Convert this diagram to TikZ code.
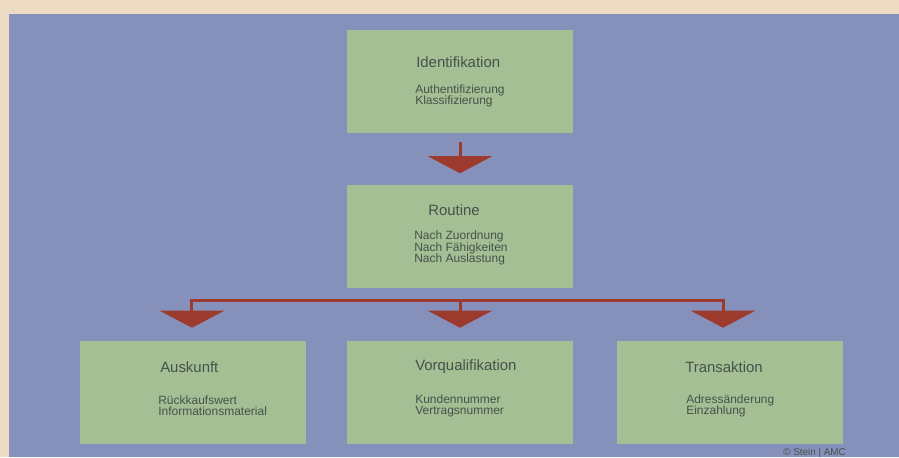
\documentclass[tikz,border=0pt]{standalone}
\usepackage{fontspec}
\setmainfont{Liberation Sans}
\usetikzlibrary{arrows.meta}
\definecolor{beige}{HTML}{EDDCC3}
\definecolor{panel}{HTML}{8691BB}
\definecolor{boxgreen}{HTML}{A4BF94}
\definecolor{arrowred}{HTML}{9C3A2E}
\definecolor{txt}{HTML}{46524A}
\tikzset{
  box/.style={fill=boxgreen, minimum width=169.5pt, minimum height=77.25pt, inner sep=0pt},
  title/.style={anchor=west, inner sep=0pt, text=txt, font=\fontsize{11.2}{13}\selectfont},
  items/.style={anchor=west, inner sep=0pt, text=txt, align=left, font=\fontsize{9}{8.4}\selectfont},
  conn/.style={draw=arrowred, line width=2.25pt, line join=miter,
    -{Triangle[width=48pt,length=12.75pt]}},
}
\begin{document}
\begin{tikzpicture}[x=0.75pt,y=-0.75pt]
\useasboundingbox (0,0) rectangle (899,457);
\fill[beige] (0,0) rectangle (899,457);
\fill[panel] (9,14) rectangle (899,457);

\node[box] (ident) at (460,81.5) {};
\node[box] (routine) at (460,236) {};
\node[box] (ausk) at (192.5,392.5) {};
\node[box] (vorq) at (460,392.5) {};
\node[box] (trans) at (730,392.5) {};

\node[title] (identT) at (416,62) {Identifikation};
\node[items] (identI) at (415,95.5) {Authentifizierung\\Klassifizierung};

\node[title] (routineT) at (428,210) {Routine};
\node[items] (routineI) at (414,248) {Nach Zuordnung\\Nach Fähigkeiten\\Nach Auslastung};

\node[title] (auskT) at (160,367) {Auskunft};
\node[items] (auskI) at (158,405.5) {Rückkaufswert\\Informationsmaterial};

\node[title] (vorqT) at (415,367) {Vorqualifikation};
\node[items] (vorqI) at (415,405.5) {Kundennummer\\Vertragsnummer};

\node[title] (transT) at (685,367) {Transaktion};
\node[items] (transI) at (686,405.5) {Adressänderung\\Einzahlung};

\draw[conn, shorten <=6.75pt, shorten >=8.25pt] (ident.south) -- (routine.north);

\coordinate (bar) at (460,300);
\draw[conn, shorten >=9.75pt] (bar) -| ([xshift=-0.4pt]ausk.north);
\draw[conn, shorten >=9.75pt] (bar) -- (vorq.north);
\draw[conn, shorten >=9.75pt] (bar) -| ([xshift=-5.25pt]trans.north);

\node[anchor=east, inner sep=0pt, text=txt, font=\fontsize{7.4}{8}\selectfont] (copy) at (846,452.5) {© Stein | AMC};
\end{tikzpicture}
\end{document}
